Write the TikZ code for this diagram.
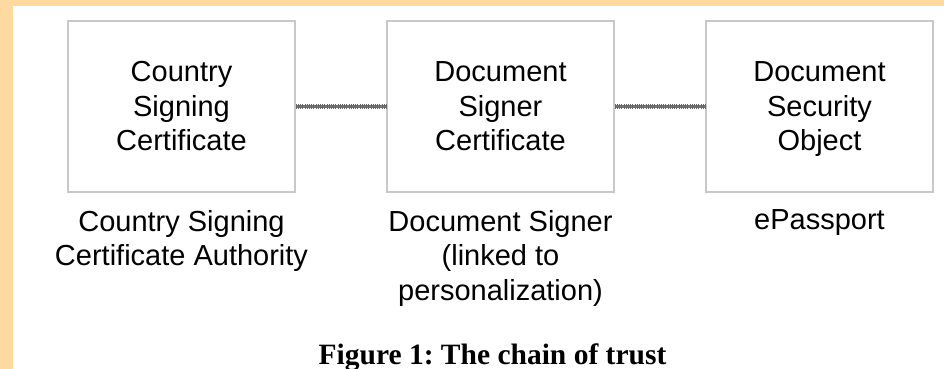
\documentclass[tikz,border=0pt]{standalone}
\usepackage{fontspec}
\setmainfont{Liberation Serif}
\setsansfont{Liberation Sans}
\usetikzlibrary{positioning}
\definecolor{frameorange}{HTML}{FFDAA0}
\definecolor{boxgray}{HTML}{C8C8C8}
\tikzset{
	certbox/.style={draw=boxgray, line width=1.6pt, minimum width=227pt, minimum height=171pt,
		align=center, font=\sffamily\fontsize{29}{34.5}\selectfont},
	holder/.style={align=center, inner sep=0pt, font=\sffamily\fontsize{29}{34.5}\selectfont},
	chain/.style={draw=black!55, line width=2.6pt,
		postaction={draw=black!60, line width=5pt, dash pattern=on 0.8pt off 1.4pt}}
}

\begin{document}
\frenchspacing
\begin{tikzpicture}[x=1pt, y=1pt]
		\useasboundingbox (0,0) rectangle (944,369);
		\fill[white] (0,0) rectangle (944,369);
		\fill[frameorange] (0,0) rectangle (13,369);
		\fill[frameorange] (0,363) rectangle (944,369);

		\node[certbox] (csc) at (181.5, 262.5) {Country\\Signing\\Certificate};
		\node[certbox] (dsc) at (500.5, 262.5) {Document\\Signer\\Certificate};
		\node[certbox] (dso) at (819.5, 262.5) {Document\\Security\\\smash{Object}};

		\draw[chain] (csc) -- (dsc);
		\draw[chain] (dsc) -- (dso);

		\node[holder, below=17pt of csc] (csca) {Country Signing\\Certificate Authority};
		\node[holder, below=17pt of dsc] (signer) {Document Signer\\(linked to\\personalization)};
		\node[holder, below=17pt of dso] (passport) {ePassport};

		\node[anchor=base, inner sep=0pt, font=\bfseries\fontsize{29.5}{34}\selectfont] (caption) at (492.5, 5) {Figure 1: The chain of trust};
	\end{tikzpicture}
\end{document}
